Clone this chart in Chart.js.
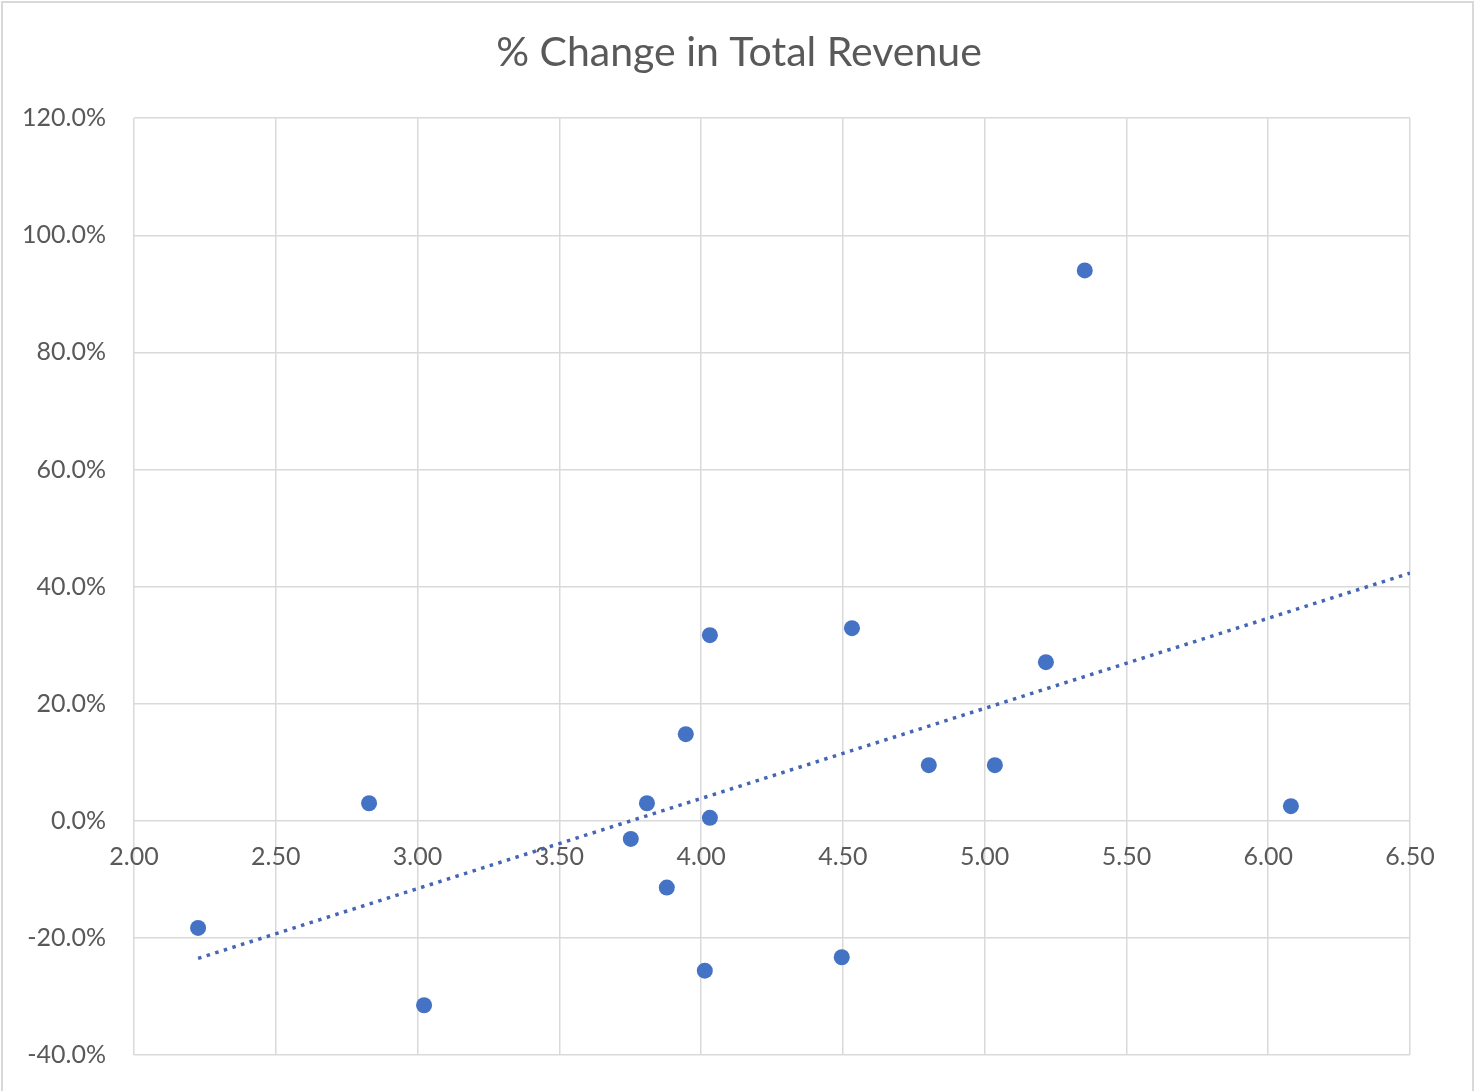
<!DOCTYPE html>
<html>
<head>
<meta charset="utf-8">
<script src="https://cdn.jsdelivr.net/npm/chart.js@4.4.1/dist/chart.umd.min.js"></script>
<style>
  html, body { margin: 0; padding: 0; background: #ffffff; }
  #wrap { position: relative; width: 1478px; height: 1091px; overflow: hidden; }
  #frame { position: absolute; left: 1px; top: 1px; width: 1473px; height: 1100px; border: 2px solid #d9d9d9; box-sizing: border-box; }
  canvas { position: absolute; left: 0; top: 0; }
</style>
</head>
<body>
<div id="wrap">
  <div id="frame"></div>
  <canvas id="c" width="1478" height="1091"></canvas>
</div>
<script>
const chartTitle = "% Change in Total Revenue";
// Scatter points: x value, y value (% change)
const pointX = [2.226, 2.829, 3.023, 3.752, 3.809, 3.879, 3.946, 4.031, 4.031, 4.013, 4.496, 4.532, 4.803, 5.036, 5.216, 5.353, 6.080];
const pointY = [-18.3, 3.0, -31.5, -3.1, 3.0, -11.4, 14.8, 31.7, 0.5, -25.6, -23.3, 32.9, 9.5, 9.5, 27.1, 94.0, 2.5];
// Linear trendline endpoints
const trendX = [2.226, 6.50];
const trendY = [-23.5, 42.3];
// Tick values
const xTicks = [2.0, 2.5, 3.0, 3.5, 4.0, 4.5, 5.0, 5.5, 6.0, 6.5];
const yTicks = [-40, -20, 0, 20, 40, 60, 80, 100, 120];

const blue = '#4472C4';
const trendColor = '#4466b4';
const textGray = '#595959';
const gridGray = '#d9d9d9';
const fontFamily = 'Lato, "Open Sans", sans-serif';

const scatterData = pointX.map((x, i) => ({ x: x, y: pointY[i] }));
const trendData = trendX.map((x, i) => ({ x: x, y: trendY[i] }));

function zeroPad(scale) {
  scale.paddingTop = 0;
  scale.paddingBottom = 0;
  scale.paddingLeft = 0;
  scale.paddingRight = 0;
}

new Chart(document.getElementById('c'), {
  type: 'scatter',
  data: {
    datasets: [
      {
        type: 'scatter',
        label: 'Points',
        data: scatterData,
        backgroundColor: blue,
        borderColor: blue,
        borderWidth: 0,
        pointRadius: 8,
        pointHoverRadius: 8,
        order: 1
      },
      {
        type: 'line',
        label: 'Linear trend',
        data: trendData,
        borderColor: trendColor,
        borderWidth: 3.5,
        borderDash: [3.5, 5.5],
        borderCapStyle: 'butt',
        pointRadius: 0,
        fill: false,
        tension: 0,
        order: 2
      }
    ]
  },
  options: {
    responsive: false,
    animation: false,
    events: [],
    layout: { padding: { left: 0, right: 0, top: 0, bottom: 36 } },
    plugins: {
      legend: { display: false },
      tooltip: { enabled: false },
      title: {
        display: true,
        text: chartTitle,
        color: textGray,
        font: { family: fontFamily, size: 41, weight: 'normal' },
        padding: { top: 28, bottom: 41 }
      }
    },
    scales: {
      x: {
        type: 'linear',
        position: { y: 0 },
        min: xTicks[0],
        max: xTicks[xTicks.length - 1],
        afterBuildTicks: (scale) => { scale.ticks = xTicks.map(v => ({ value: v })); },
        afterFit: zeroPad,
        ticks: {
          color: textGray,
          font: { family: fontFamily, size: 25 },
          padding: 21,
          maxRotation: 0,
          autoSkip: false,
          callback: (v) => Number(v).toFixed(2)
        },
        grid: { color: gridGray, lineWidth: 1.5, drawTicks: false },
        border: { display: false }
      },
      y: {
        type: 'linear',
        position: 'left',
        min: yTicks[0],
        max: yTicks[yTicks.length - 1],
        afterBuildTicks: (scale) => { scale.ticks = yTicks.map(v => ({ value: v })); },
        afterFit: (scale) => { scale.width = 134; zeroPad(scale); },
        ticks: {
          color: textGray,
          font: { family: fontFamily, size: 25 },
          padding: 28,
          autoSkip: false,
          callback: (v) => Number(v).toFixed(1) + '%'
        },
        grid: { color: gridGray, lineWidth: 1.5, drawTicks: false },
        border: { display: false }
      },
      yRightSpace: {
        type: 'linear',
        position: 'right',
        display: true,
        afterFit: (scale) => { scale.width = 68; zeroPad(scale); },
        ticks: { display: false },
        grid: { display: false, drawTicks: false },
        border: { display: false }
      }
    }
  }
});
</script>
</body>
</html>
